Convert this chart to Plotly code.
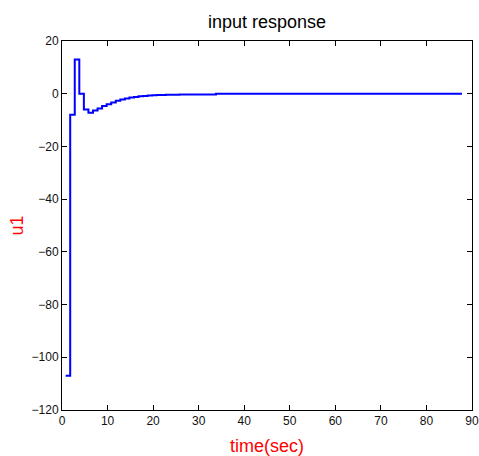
import plotly.graph_objects as go

# sample times (s) and control input u1 (zero-order hold)
t_start = 0.8
u1_values = [-107.0, -8.0, 13.0, 0.0, -6.0, -7.2, -6.4, -5.6, -4.7, -4.0, -3.3,
             -2.7, -2.2, -1.8, -1.45, -1.2, -1.0, -0.85, -0.7, -0.6, -0.5,
             -0.45, -0.4, -0.35, -0.35, -0.3, -0.3, -0.3, -0.3, -0.3, -0.3,
             -0.3, -0.3, 0.0, 0.0, 0.0, 0.0, 0.0, 0.0, 0.0, 0.0, 0.0, 0.0,
             0.0, 0.0, 0.0, 0.0, 0.0, 0.0, 0.0, 0.0, 0.0, 0.0, 0.0, 0.0,
             0.0, 0.0, 0.0, 0.0, 0.0, 0.0, 0.0, 0.0, 0.0, 0.0, 0.0, 0.0,
             0.0, 0.0, 0.0, 0.0, 0.0, 0.0, 0.0, 0.0, 0.0, 0.0, 0.0, 0.0,
             0.0, 0.0, 0.0, 0.0, 0.0, 0.0, 0.0, 0.0, 0.0]
time = [t_start + i for i in range(len(u1_values))]

x_ticks = [0, 10, 20, 30, 40, 50, 60, 70, 80, 90]
y_ticks = [-120, -100, -80, -60, -40, -20, 0, 20]

fig = go.Figure()
fig.add_trace(go.Scatter(x=time, y=u1_values, mode="lines",
                         line=dict(color="#0000ff", width=2, shape="hv"),
                         showlegend=False, hoverinfo="skip"))

axis_common = dict(showgrid=False, zeroline=False, showline=True, linecolor="black",
                   linewidth=1, mirror="ticks", ticks="inside", ticklen=5,
                   tickcolor="black", automargin=False,
                   tickfont=dict(family="Liberation Sans, Arial", size=12, color="#111"))

fig.update_layout(
    template="none",
    width=479, height=456,
    margin=dict(l=62, r=7, t=41, b=46),
    paper_bgcolor="white", plot_bgcolor="white",
    title=dict(text="input response", x=0.5575, xanchor="center", y=0.953, yanchor="middle",
               font=dict(family="Liberation Sans, Arial", size=18, color="black")),
    xaxis=dict(range=[0, 90], tickvals=x_ticks,
               title=dict(text="time(sec)", standoff=14,
                          font=dict(family="Liberation Sans, Arial", size=18, color="red")),
               **axis_common),
    yaxis=dict(range=[-120, 20], tickvals=y_ticks,
               title=dict(text="u1", standoff=3,
                          font=dict(family="Liberation Sans, Arial", size=18, color="red")),
               **axis_common),
)

fig.write_html("out.html")
